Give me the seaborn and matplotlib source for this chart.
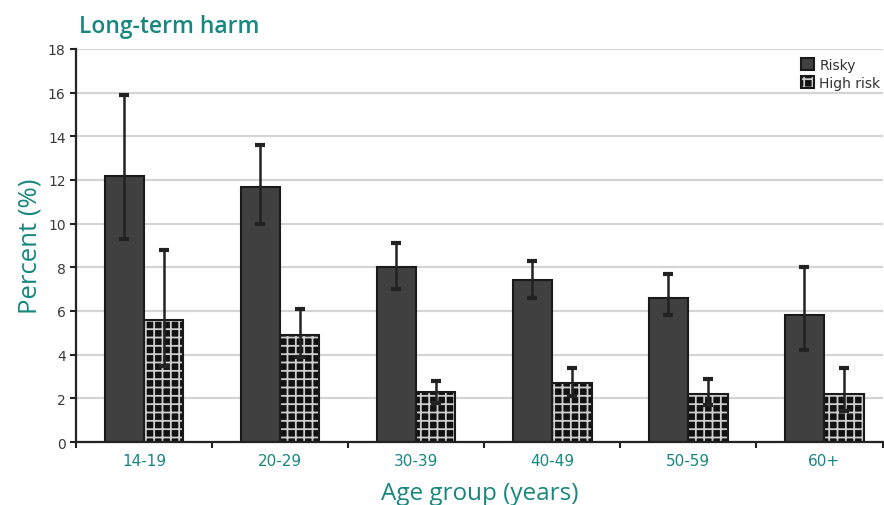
import pandas as pd
import numpy as np
import matplotlib
matplotlib.use("Agg")
import matplotlib.pyplot as plt
from matplotlib.colors import to_rgba
import seaborn as sns

# data
age_groups = ["14-19", "20-29", "30-39", "40-49", "50-59", "60+"]
risky = [12.2, 11.7, 8.0, 7.4, 6.6, 5.8]
risky_lo = [9.3, 10.0, 7.0, 6.6, 5.8, 4.2]
risky_hi = [15.9, 13.6, 9.1, 8.3, 7.7, 8.0]
high_risk = [5.6, 4.9, 2.3, 2.7, 2.2, 2.2]
high_lo = [3.5, 3.9, 1.8, 2.1, 1.7, 1.4]
high_hi = [8.8, 6.1, 2.8, 3.4, 2.9, 3.4]

teal = "#17877f"

df = pd.DataFrame({
    "Age group": age_groups * 2,
    "Percent": risky + high_risk,
    "Group": ["Risky"] * len(age_groups) + ["High risk"] * len(age_groups),
})

sns.set_style("white")
plt.rcParams["font.family"] = ["DejaVu Sans"]
plt.rcParams["hatch.linewidth"] = 1.3

fig = plt.figure(figsize=(8.84, 5.06), dpi=100)
ax = fig.add_axes([0.086, 0.1245, 0.913, 0.7767])

sns.barplot(data=df, x="Age group", y="Percent", hue="Group",
            palette=["#404040", "#111111"], width=0.58,
            edgecolor="#1a1a1a", linewidth=1.5, errorbar=None, ax=ax)

# checkered look for the high risk bars: gray grid on dark face
for p in ax.containers[1].patches:
    p.set_hatch("++")
    p._hatch_color = to_rgba("#cfcfcf")

# asymmetric error bars
for cont, vals, lo, hi in [(ax.containers[0], risky, risky_lo, risky_hi),
                           (ax.containers[1], high_risk, high_lo, high_hi)]:
    xs = [p.get_x() + p.get_width() / 2 for p in cont.patches]
    yerr = [np.array(vals) - np.array(lo), np.array(hi) - np.array(vals)]
    ax.errorbar(xs, vals, yerr=yerr, fmt="none", ecolor="#222222",
                elinewidth=1.8, capsize=3.5, capthick=3, zorder=5)

x_end = 5.434
ax.set_xticks(list(np.arange(-0.5, 5, 1)) + [x_end], minor=True)
ax.set_ylim(0, 18)
ax.set_yticks(range(0, 19, 2))
ax.set_xlim(-0.5, x_end)

ax.yaxis.grid(True, color="#d4d4d4", linewidth=1.6)
ax.set_axisbelow(True)
sns.despine(ax=ax)
for s in ["left", "bottom"]:
    ax.spines[s].set_linewidth(1.6)
    ax.spines[s].set_color("#222222")

ax.tick_params(axis="y", which="major", length=4, width=1.5, color="#222222",
               labelsize=10, labelcolor="#3a3a3a", left=True)
ax.tick_params(axis="x", which="major", length=0, labelsize=11,
               labelcolor=teal, pad=8)
ax.tick_params(axis="x", which="minor", length=4, width=1.5,
               color="#222222", bottom=True)

ax.set_ylabel("Percent (%)", color=teal, fontsize=18.5,
              family=["Open Sans", "DejaVu Sans"], labelpad=4)
ax.set_xlabel("Age group (years)", color=teal, fontsize=17.5,
              family=["Open Sans", "DejaVu Sans"], labelpad=9)
fig.text(0.089, 0.947, "Long-term harm", color=teal, fontsize=16.5,
         family=["Open Sans", "DejaVu Sans"], weight="semibold",
         ha="left", va="center")

ax.get_legend().remove()
handles = [ax.containers[0].patches[0], ax.containers[1].patches[0]]
ax.legend(handles, ["Risky", "High risk"], loc="upper right",
          bbox_to_anchor=(1.012, 1.01), frameon=False, fontsize=10,
          handlelength=0.9, handleheight=0.9, handletextpad=0.4,
          labelspacing=0.3, labelcolor="#333333")

fig.savefig("out.png", dpi=100)
